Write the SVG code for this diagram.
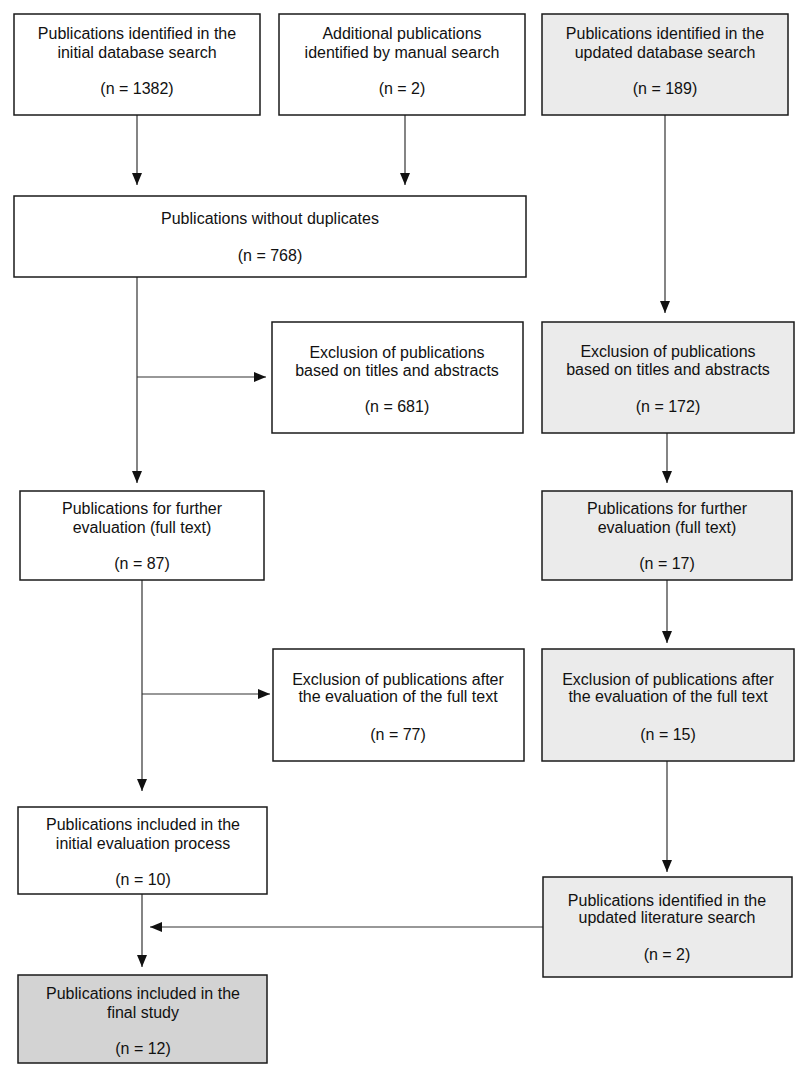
<svg xmlns="http://www.w3.org/2000/svg" width="800" height="1080" viewBox="0 0 800 1080">
<style>
.box{fill:#ffffff;stroke:#1a1a1a;stroke-width:1.5}
.g{fill:#ebebeb}
.g2{fill:#d3d3d3}
text{font-family:"Liberation Sans",Arial,sans-serif;font-size:16px;fill:#111;text-anchor:middle}
.c{stroke:#333;stroke-width:1.2;fill:none}
.a{marker-end:url(#ah)}
</style>
<defs>
<marker id="ah" markerUnits="userSpaceOnUse" markerWidth="12" markerHeight="12" viewBox="0 0 12 10" refX="12" refY="5" orient="auto">
<path d="M0,0 L12,5 L0,10 Z" fill="#111"/>
</marker>
</defs>
<rect width="800" height="1080" fill="#ffffff"/>
<g id="connectors">
<line class="c a" x1="137" y1="115" x2="137" y2="185"/>
<line class="c a" x1="405" y1="115" x2="405" y2="185"/>
<line class="c a" x1="665" y1="115" x2="665" y2="313"/>
<line class="c a" x1="137" y1="277" x2="137" y2="483"/>
<line class="c a" x1="137" y1="377" x2="266" y2="377"/>
<line class="c a" x1="667" y1="433" x2="667" y2="483"/>
<line class="c a" x1="142" y1="580" x2="142" y2="791"/>
<line class="c a" x1="142" y1="694" x2="270" y2="694"/>
<line class="c a" x1="667" y1="580" x2="667" y2="643"/>
<line class="c a" x1="667" y1="761" x2="667" y2="872"/>
<line class="c a" x1="142" y1="894" x2="142" y2="967"/>
<line class="c a" x1="543" y1="927" x2="150" y2="927"/>
</g>
<g id="n1"><rect class="box" x="14" y="14" width="246" height="101"/>
<text x="137" y="39">Publications identified in the</text><text x="137" y="58">initial database search</text><text x="137" y="94">(n = 1382)</text></g>
<g id="n2"><rect class="box" x="279" y="14" width="246" height="101"/>
<text x="402" y="39">Additional publications</text><text x="402" y="58">identified by manual search</text><text x="402" y="94">(n = 2)</text></g>
<g id="n3"><rect class="box g" x="542" y="14" width="246" height="101"/>
<text x="665" y="39">Publications identified in the</text><text x="665" y="58">updated database search</text><text x="665" y="94">(n = 189)</text></g>
<g id="n4"><rect class="box" x="14" y="196" width="512" height="81"/>
<text x="270" y="224">Publications without duplicates</text><text x="270" y="261">(n = 768)</text></g>
<g id="n5"><rect class="box" x="272" y="322" width="251" height="111"/>
<text x="397" y="358">Exclusion of publications</text><text x="397" y="376">based on titles and abstracts</text><text x="397" y="412">(n = 681)</text></g>
<g id="n6"><rect class="box g" x="542" y="322" width="252" height="111"/>
<text x="668" y="357">Exclusion of publications</text><text x="668" y="375">based on titles and abstracts</text><text x="668" y="412">(n = 172)</text></g>
<g id="n7"><rect class="box" x="20" y="491" width="244" height="89"/>
<text x="142" y="514">Publications for further</text><text x="142" y="533">evaluation (full text)</text><text x="142" y="569">(n = 87)</text></g>
<g id="n8"><rect class="box g" x="542" y="491" width="250" height="89"/>
<text x="667" y="514">Publications for further</text><text x="667" y="533">evaluation (full text)</text><text x="667" y="569">(n = 17)</text></g>
<g id="n9"><rect class="box" x="273" y="649" width="251" height="112"/>
<text x="398" y="685">Exclusion of publications after</text><text x="398" y="702">the evaluation of the full text</text><text x="398" y="740">(n = 77)</text></g>
<g id="n10"><rect class="box g" x="542" y="649" width="252" height="112"/>
<text x="668" y="685">Exclusion of publications after</text><text x="668" y="702">the evaluation of the full text</text><text x="668" y="740">(n = 15)</text></g>
<g id="n11"><rect class="box" x="18" y="807" width="249" height="87"/>
<text x="143" y="830">Publications included in the</text><text x="143" y="849">initial evaluation process</text><text x="143" y="885">(n = 10)</text></g>
<g id="n12"><rect class="box g" x="543" y="877" width="249" height="100"/>
<text x="667" y="906">Publications identified in the</text><text x="667" y="923">updated literature search</text><text x="667" y="960">(n = 2)</text></g>
<g id="n13"><rect class="box g2" x="18" y="975" width="249" height="88"/>
<text x="143" y="999">Publications included in the</text><text x="143" y="1018">final study</text><text x="143" y="1054">(n = 12)</text></g>
</svg>
